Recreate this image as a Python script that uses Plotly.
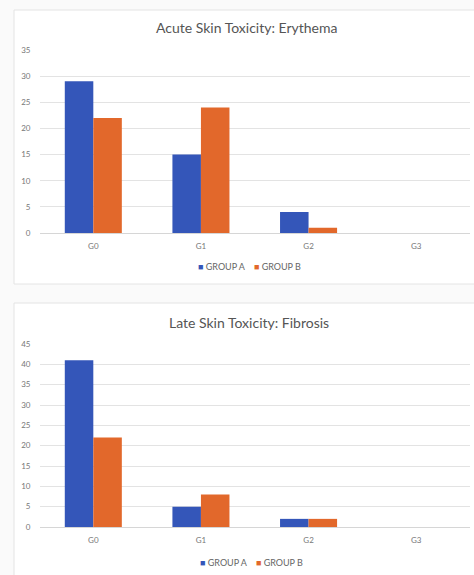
import plotly.graph_objects as go

W, H = 474, 575

grades = ["G0", "G1", "G2", "G3"]
erythema_a = [29, 15, 4, 0]
erythema_b = [22, 24, 1, 0]
fibrosis_a = [41, 5, 2, 0]
fibrosis_b = [22, 8, 2, 0]
series_names = ["GROUP A", "GROUP B"]
titles = ["Acute Skin Toxicity: Erythema", "Late Skin Toxicity: Fibrosis"]
erythema_ticks = [0, 5, 10, 15, 20, 25, 30, 35]
fibrosis_ticks = [0, 5, 10, 15, 20, 25, 30, 35, 40, 45]

BLUE = "#3456b9"
ORANGE = "#e2682b"
FONT = "Lato"


def px_x(p):
    return p / W


def px_y(p):
    return 1 - p / H


fig = go.Figure()

fig.add_trace(go.Bar(x=grades, y=erythema_a, name=series_names[0], marker_color=BLUE,
                     xaxis="x", yaxis="y"))
fig.add_trace(go.Bar(x=grades, y=erythema_b, name=series_names[1], marker_color=ORANGE,
                     xaxis="x", yaxis="y"))
fig.add_trace(go.Bar(x=grades, y=fibrosis_a, name=series_names[0], marker_color=BLUE,
                     xaxis="x2", yaxis="y2"))
fig.add_trace(go.Bar(x=grades, y=fibrosis_b, name=series_names[1], marker_color=ORANGE,
                     xaxis="x2", yaxis="y2"))

for tr in fig.data:
    tr.marker.line.width = 0

xdom = [px_x(39.5), px_x(470)]
axis_x = dict(domain=xdom, range=[-0.5, 3.5], showgrid=False, zeroline=False,
              showline=False, ticks="", ticklabelstandoff=7,
              tickfont=dict(family=FONT, size=8, color="#777777"))
axis_y = dict(showgrid=True, gridcolor="#e3e3e3", gridwidth=1, zeroline=True,
              zerolinecolor="#d6d6d6", zerolinewidth=1, showline=False, ticks="",
              ticklabelstandoff=8,
              tickfont=dict(family=FONT, size=8, color="#777777"))


def legend_text():
    # coloured square keys followed by the series names, Excel-style
    return (f"<span style='color:{BLUE}'>■</span>&nbsp;{series_names[0]}"
            "&nbsp;&nbsp;&nbsp;&nbsp;"
            f"<span style='color:{ORANGE}'>■</span>&nbsp;{series_names[1]}")


fig.update_layout(
    width=W, height=H,
    margin=dict(l=0, r=0, t=0, b=0, autoexpand=False),
    paper_bgcolor="#fafafa",
    plot_bgcolor="rgba(0,0,0,0)",
    showlegend=False,
    barmode="group", bargap=0.47, bargroupgap=0,
    xaxis=dict(axis_x, anchor="y"),
    yaxis=dict(axis_y, anchor="x", domain=[px_y(233), px_y(50)], range=[0, 35],
               tickvals=erythema_ticks),
    xaxis2=dict(axis_x, anchor="y2"),
    yaxis2=dict(axis_y, anchor="x2", domain=[px_y(527), px_y(344)], range=[0, 45],
                tickvals=fibrosis_ticks),
    shapes=[
        dict(type="rect", xref="paper", yref="paper", layer="below",
             x0=px_x(14), x1=px_x(490), y0=px_y(284), y1=px_y(10),
             fillcolor="white", line=dict(color="#e4e4e4", width=1)),
        dict(type="rect", xref="paper", yref="paper", layer="below",
             x0=px_x(14), x1=px_x(490), y0=px_y(600), y1=px_y(303),
             fillcolor="white", line=dict(color="#e4e4e4", width=1)),
    ],
    annotations=[
        dict(text=titles[0], xref="paper", yref="paper", x=px_x(247), y=px_y(28),
             xanchor="center", yanchor="middle", showarrow=False,
             font=dict(family=FONT, size=14, color="#555555")),
        dict(text=titles[1], xref="paper", yref="paper", x=px_x(249), y=px_y(322),
             xanchor="center", yanchor="middle", showarrow=False,
             font=dict(family=FONT, size=14, color="#555555")),
        dict(text=legend_text(), xref="paper", yref="paper", x=px_x(249), y=px_y(267),
             xanchor="center", yanchor="middle", showarrow=False,
             font=dict(family=FONT, size=9, color="#666666")),
        dict(text=legend_text(), xref="paper", yref="paper", x=px_x(251), y=px_y(562),
             xanchor="center", yanchor="middle", showarrow=False,
             font=dict(family=FONT, size=9, color="#666666")),
    ],
)

fig.write_html("out.html")
